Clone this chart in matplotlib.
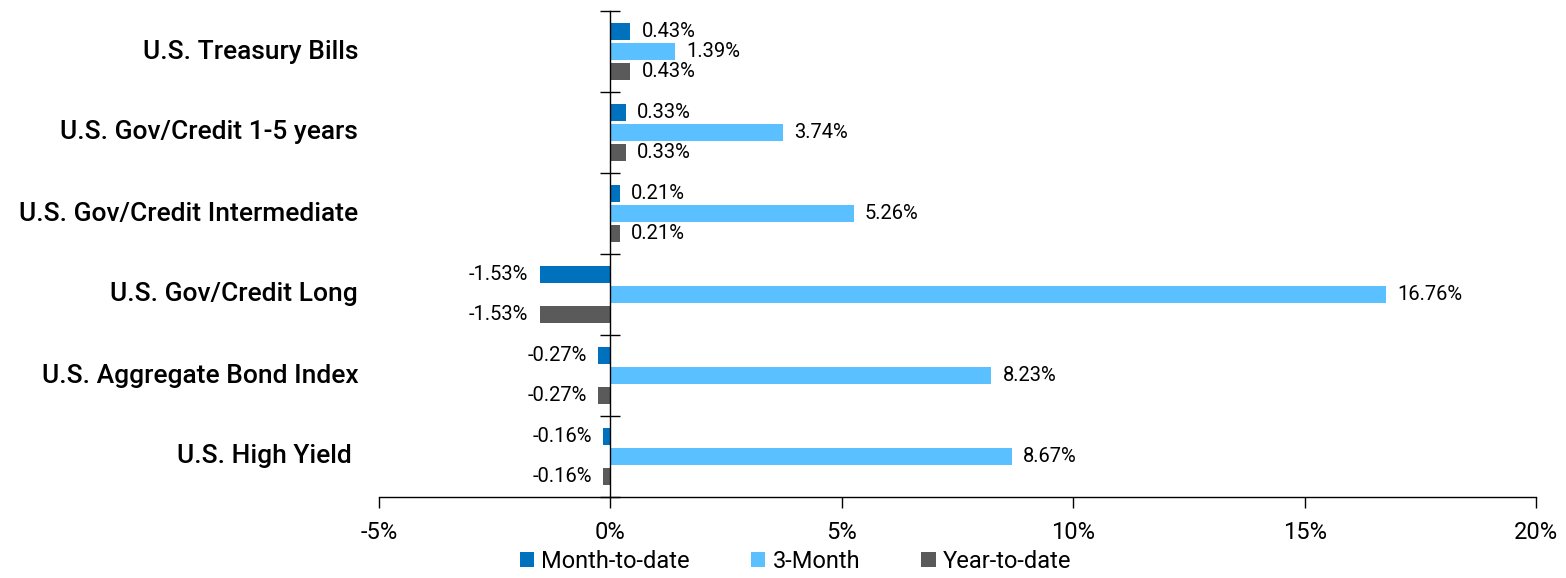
import matplotlib
matplotlib.use("Agg")
import matplotlib.pyplot as plt
import matplotlib.transforms as mtransforms

categories = ["U.S. Treasury Bills", "U.S. Gov/Credit 1-5 years", "U.S. Gov/Credit Intermediate",
              "U.S. Gov/Credit Long", "U.S. Aggregate Bond Index", "U.S. High Yield "]
month_to_date = [0.43, 0.33, 0.21, -1.53, -0.27, -0.16]
three_month = [1.39, 3.74, 5.26, 16.76, 8.23, 8.67]
year_to_date = [0.43, 0.33, 0.21, -1.53, -0.27, -0.16]
series_names = ["Month-to-date", "3-Month", "Year-to-date"]
xticks = [-5, 0, 5, 10, 15, 20]

colors = ["#0071BD", "#5BC0FF", "#5A5A5A"]

plt.rcParams['font.family'] = ["Roboto", "DejaVu Sans"]

fig = plt.figure(figsize=(15.66, 5.78), dpi=100)
ax = fig.add_axes([379/1566, 1-497/578, (1536-379)/1566, (497-11)/578])

n = len(categories)
centers = list(range(n))
bh = 0.2
off = 0.247
series = [month_to_date, three_month, year_to_date]
for k, (vals, c, name) in enumerate(zip(series, colors, series_names)):
    ys = [i + (k - 1) * off for i in centers]
    ax.barh(ys, vals, height=bh, color=c, label=name)
    for y, v in zip(ys, vals):
        if v >= 0:
            ax.annotate(f"{v:.2f}%", (v, y), xytext=(8, 0), textcoords="offset points",
                        ha="left", va="center", fontsize=14.5)
        else:
            ax.annotate(f"{v:.2f}%", (v, y), xytext=(-8, 0), textcoords="offset points",
                        ha="right", va="center", fontsize=14.5)

ax.set_xlim(-5, 20)
ax.set_ylim(n - 0.5, -0.5)
ax.set_xticks(xticks)
ax.set_xticklabels([f"{t}%" for t in xticks], fontsize=17)
ax.tick_params(axis="x", direction="out", length=8, width=1, pad=9)

ax.spines["top"].set_visible(False)
ax.spines["right"].set_visible(False)
ax.spines["left"].set_position(("data", 0))
ax.spines["left"].set_linewidth(1)
ax.spines["bottom"].set_linewidth(1)
ax.set_yticks([i - 0.5 for i in range(n + 1)])
ax.set_yticklabels([])
ax.tick_params(axis="y", direction="inout", length=14, width=1)

trans = mtransforms.blended_transform_factory(ax.transAxes, ax.transData)
for i, cat in enumerate(categories):
    ax.text(-0.018, i, cat, transform=trans, ha="right", va="center",
            fontsize=19, fontweight="medium")

leg = fig.legend(loc="center", bbox_to_anchor=(0.508, 1-561/578), ncol=3, frameon=False,
                 fontsize=17, handlelength=0.6, handleheight=0.6, handletextpad=0.3,
                 columnspacing=2.6)

fig.savefig("out.png", dpi=100)
